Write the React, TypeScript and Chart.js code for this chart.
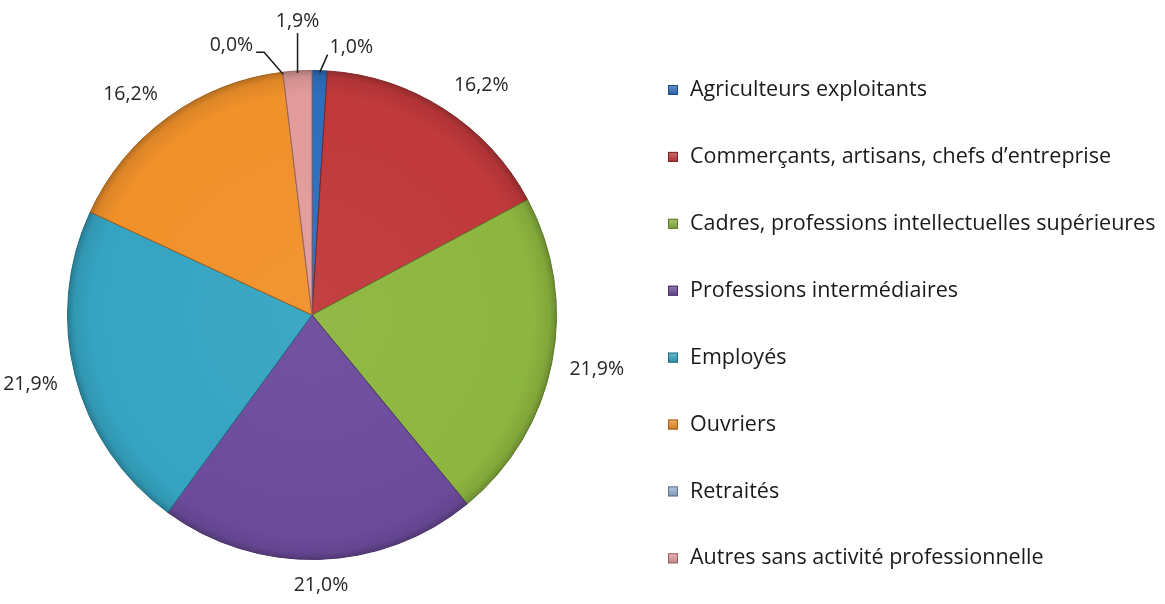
import React, { useEffect, useRef } from "react";
import { Chart, registerables } from "chart.js";

Chart.register(...registerables);

const categories = [
  "Agriculteurs exploitants",
  "Commerçants, artisans, chefs d’entreprise",
  "Cadres, professions intellectuelles supérieures",
  "Professions intermédiaires",
  "Employés",
  "Ouvriers",
  "Retraités",
  "Autres sans activité professionnelle",
];
const values = [1.0, 16.2, 21.9, 21.0, 21.9, 16.2, 0.0, 1.9];
const colors = [
  "#2f6ebd",
  "#c0393b",
  "#8db63f",
  "#6d4b9c",
  "#35a4c2",
  "#f0912a",
  "#95b3d7",
  "#e39b9b",
];

const FONT = "'Open Sans', Lato, sans-serif";
const LABEL_SIZE = 19.5;
const LEGEND_SIZE = 21.5;

const fmt = (v: number) => v.toFixed(1).replace(".", ",") + "%";

function shade(hex: string, f: number) {
  const n = parseInt(hex.slice(1), 16);
  let r = (n >> 16) & 255, g = (n >> 8) & 255, b = n & 255;
  if (f >= 0) {
    r = Math.round(r + (255 - r) * f);
    g = Math.round(g + (255 - g) * f);
    b = Math.round(b + (255 - b) * f);
  } else {
    r = Math.round(r * (1 + f));
    g = Math.round(g * (1 + f));
    b = Math.round(b * (1 + f));
  }
  return `rgb(${r},${g},${b})`;
}

// leader line styles for the tiny slices (index -> style)
const LEADERS: Record<number, { dx: number; dy: number; hx?: number; side: string }> = {
  0: { dx: 8, dy: -18, side: "right" },
  6: { dx: -19, dy: -22, hx: -8, side: "left" },
  7: { dx: 0, dy: -40, side: "top" },
};

const clamp1 = (v: number) => Math.max(-1, Math.min(1, v));

const labelPlugin = {
  id: "pctLabels",
  afterDatasetsDraw(chart: any) {
    const ctx = chart.ctx;
    const meta = chart.getDatasetMeta(0);
    ctx.save();
    ctx.font = `${LABEL_SIZE}px ${FONT}`;
    ctx.fillStyle = "#262626";
    meta.data.forEach((arc: any, i: number) => {
      const { x, y, startAngle, endAngle, outerRadius } = arc.getProps(
        ["x", "y", "startAngle", "endAngle", "outerRadius"],
        true
      );
      const mid = (startAngle + endAngle) / 2;
      const cos = Math.cos(mid);
      const sin = Math.sin(mid);
      const text = fmt(values[i]);
      const w = ctx.measureText(text).width;
      const h = LABEL_SIZE * 0.85;
      const leader = LEADERS[i];
      if (leader) {
        const ex = x + cos * (outerRadius - 2);
        const ey = y + sin * (outerRadius - 2);
        const bx = ex + leader.dx;
        const by = ey + leader.dy;
        ctx.beginPath();
        ctx.moveTo(ex, ey);
        ctx.lineTo(bx, by);
        let tx = bx;
        if (leader.hx) {
          ctx.lineTo(bx + leader.hx, by);
          tx = bx + leader.hx;
        }
        ctx.strokeStyle = "#1a1a1a";
        ctx.lineWidth = 1.5;
        ctx.stroke();
        ctx.textBaseline = "middle";
        if (leader.side === "right") {
          ctx.textAlign = "left";
          ctx.fillText(text, tx + 2, by - 7);
        } else if (leader.side === "left") {
          ctx.textAlign = "right";
          ctx.fillText(text, tx - 3, by - 7);
        } else {
          ctx.textAlign = "center";
          ctx.fillText(text, tx, by - 11);
        }
      } else {
        const gap = 18;
        const d = outerRadius + gap;
        const ux = clamp1(cos / 0.5);
        const uy = clamp1(sin / 0.5);
        const cx = x + cos * d + (ux * w) / 2;
        const cy = y + sin * d + (uy * h) / 2;
        ctx.textAlign = "center";
        ctx.textBaseline = "middle";
        ctx.fillText(text, cx, cy);
      }
    });
    ctx.restore();
  },
};

const LEGEND_X = 668;
const LEGEND_Y0 = 90;
const LEGEND_STEP = 66.9;

const legendPlugin = {
  id: "customLegend",
  afterDraw(chart: any) {
    const ctx = chart.ctx;
    ctx.save();
    ctx.font = `${LEGEND_SIZE}px ${FONT}`;
    ctx.textBaseline = "middle";
    ctx.textAlign = "left";
    categories.forEach((c, i) => {
      const cy = LEGEND_Y0 + i * LEGEND_STEP;
      const s = 10;
      const g = ctx.createLinearGradient(0, cy - s / 2, 0, cy + s / 2);
      g.addColorStop(0, shade(colors[i], 0.25));
      g.addColorStop(1, shade(colors[i], -0.15));
      ctx.fillStyle = g;
      ctx.fillRect(LEGEND_X, cy - s / 2, s, s);
      ctx.strokeStyle = shade(colors[i], -0.35);
      ctx.lineWidth = 1;
      ctx.strokeRect(LEGEND_X + 0.5, cy - s / 2 + 0.5, s - 1, s - 1);
      ctx.fillStyle = "#1a1a1a";
      ctx.fillText(c, LEGEND_X + 22, cy);
    });
    ctx.restore();
  },
};

export default function App() {
  const ref = useRef<HTMLCanvasElement | null>(null);
  useEffect(() => {
    if (!ref.current) return;
    const chart = new Chart(ref.current, {
      type: "pie",
      data: {
        labels: categories,
        datasets: [
          {
            data: values,
            backgroundColor: (c: any) => {
              const i = c.dataIndex;
              const base = colors[i];
              const ch = c.chart;
              const area = ch.chartArea;
              if (!area) return base;
              const cx = (area.left + area.right) / 2;
              const cy = (area.top + area.bottom) / 2;
              const r = Math.min(area.right - area.left, area.bottom - area.top) / 2;
              const g = ch.ctx.createRadialGradient(cx, cy, 0, cx, cy, r);
              g.addColorStop(0, shade(base, 0.04));
              g.addColorStop(0.9, base);
              g.addColorStop(0.97, shade(base, -0.08));
              g.addColorStop(1, shade(base, -0.25));
              return g;
            },
            borderColor: (c: any) => shade(colors[c.dataIndex], -0.35),
            borderWidth: 1,
          },
        ],
      },
      options: {
        animation: false,
        responsive: true,
        maintainAspectRatio: false,
        layout: { padding: { left: 67, right: 608, top: 70, bottom: 44 } },
        plugins: {
          legend: { display: false },
          tooltip: { enabled: false },
        },
      },
      plugins: [labelPlugin, legendPlugin],
    });
    return () => chart.destroy();
  }, []);
  return (
    <div style={{ position: "absolute", left: 0, top: 0, width: 1165, height: 604, background: "#fff" }}>
      <canvas ref={ref} />
    </div>
  );
}
